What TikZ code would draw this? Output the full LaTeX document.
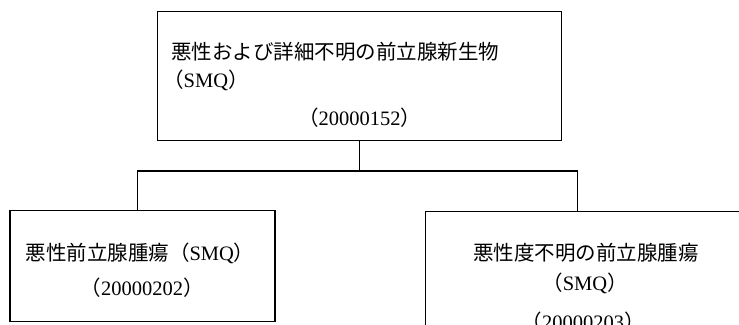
\documentclass[tikz,border=0pt]{standalone}
\usepackage{fontspec}
\setmainfont{Liberation Serif}
\newfontfamily\jp{Noto Sans CJK JP}
\begin{document}
\begin{tikzpicture}[x=1pt,y=-1pt,
  box/.style={draw,line width=1.3pt,inner sep=0pt,rectangle},
  txt/.style={inner sep=0pt,font=\fontsize{20.5}{24}\selectfont},
  conn/.style={line width=1.1pt}]
\useasboundingbox (0,0) rectangle (739,324);
\clip (0,0) rectangle (739,324);
% boxes
\node[box,minimum width=404pt,minimum height=129pt] (top) at (359.5,76) {};
\node[box,minimum width=265pt,minimum height=111pt] (left) at (142.5,266) {};
\node[box,minimum width=322pt,minimum height=125pt] (right) at (586.5,274) {};
% texts
\node[txt,anchor=base west] (t1) at (171,59) {\jp 悪性および詳細不明の前立腺新生物};
\node[txt,anchor=base west] (t2) at (163,87) {\jp （\normalfont SMQ\jp ）};
\node[txt,anchor=base] (t3) at (359.5,125) {\jp （\normalfont 20000152\jp ）};
\node[txt,anchor=base] (l1) at (140,260) {\jp 悪性前立腺腫瘍（\normalfont SMQ\jp ）};
\node[txt,anchor=base] (l2) at (142,295) {\jp （\normalfont 20000202\jp ）};
\node[txt,anchor=base] (r1) at (586,260) {\jp 悪性度不明の前立腺腫瘍};
\node[txt,anchor=base] (r2) at (585,290) {\jp （\normalfont SMQ\jp ）};
\node[txt,anchor=base] (r3) at (583,329) {\jp （\normalfont 20000203\jp ）};
% connectors
\coordinate (bl) at (137.7,171);
\coordinate (br) at (577.7,171);
\draw[conn] (top.south) -- (top.south |- bl);
\draw[conn] (left.north -| bl) -- (bl) -- (br) -- (right.north -| br);
\end{tikzpicture}
\end{document}
